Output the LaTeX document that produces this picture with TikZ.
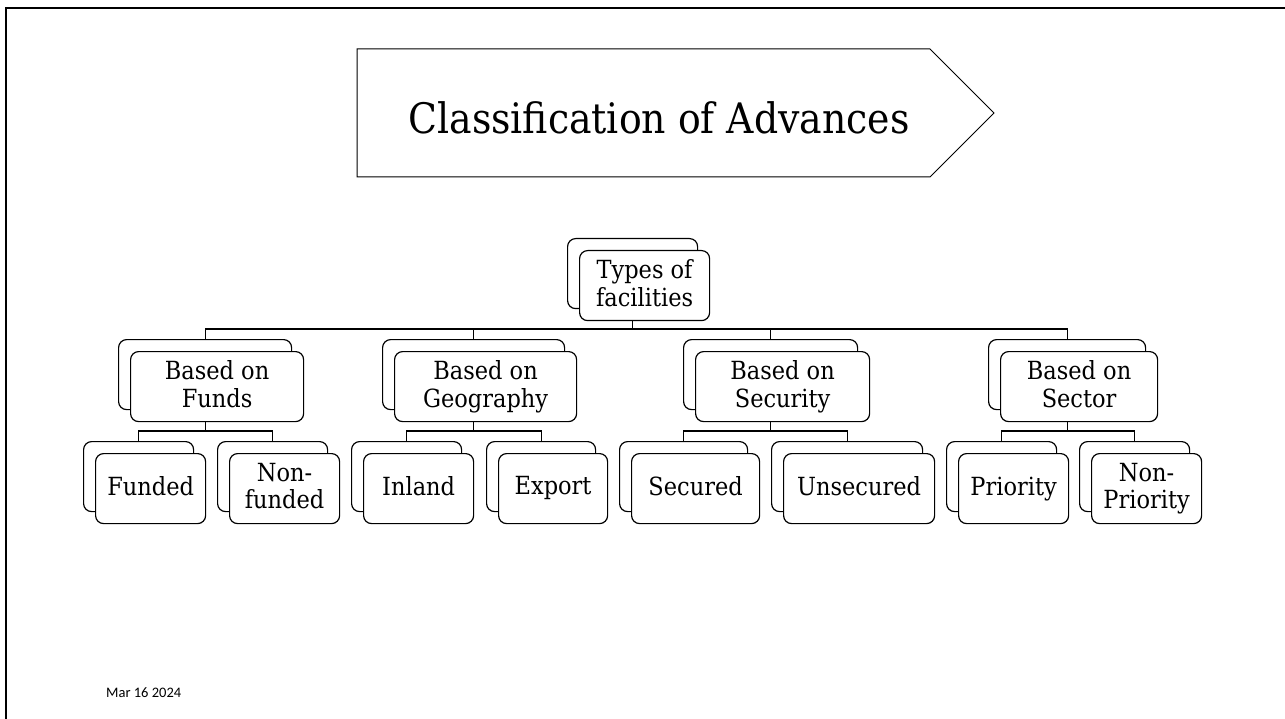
\documentclass[tikz,border=0pt]{standalone}
\usepackage{fontspec}
\setmainfont{DejaVu Serif Condensed}
\newfontfamily\datefont{Carlito}
\usetikzlibrary{calc}
\tikzset{
  boxline/.style={draw=black, line width=1.2pt, rounded corners=8pt, fill=white, inner sep=0pt},
  backbox/.style={boxline, minimum height=70pt},
  frontbox/.style={boxline, minimum height=70pt, align=center,
    font=\fontsize{25}{27.5}\selectfont},
  conn/.style={draw=black, line width=1.2pt},
  frame/.style={draw=black, line width=2pt},
}
\newcommand{\dbox}[5]{% name, backleft, backtop, width, text
  \node[backbox, minimum width=#4pt, anchor=north west] (#1b) at (#2,#3) {};
  \node[frontbox, minimum width=#4pt, anchor=north west] (#1f) at (#2+12,#3+12) {\vphantom{Ay}#5\vphantom{Ay}};
}
\begin{document}
\begin{tikzpicture}[x=1pt,y=-1pt]
\useasboundingbox (0,0) rectangle (1285,719);
% frame
\coordinate (fr1) at (1286,8);
\coordinate (fr2) at (6,8);
\coordinate (fr3) at (6,720);
\draw[frame] (fr1) -- (fr2) -- (fr3);
% title arrow
\draw[line width=1pt] (357,49) -- (930,49) -- (994,113) -- (930,177) -- (357,177) -- cycle;
\node[font=\fontsize{42}{46}\selectfont, inner sep=0pt] (title) at (659,118) {Classification of Advances};
% boxes
\dbox{top}{567}{238}{130}{Types of\\facilities}
\dbox{fun}{118}{339}{173}{Based on\\Funds}
\dbox{geo}{382}{339}{182}{Based on\\Geography}
\dbox{sec}{683}{339}{174}{Based on\\Security}
\dbox{sct}{988}{339}{157}{Based on\\Sector}
\dbox{fd}{83}{441}{110}{Funded}
\dbox{nf}{217}{441}{110}{Non-\\funded}
\dbox{in}{351}{441}{110}{Inland}
\dbox{ex}{486}{441}{109}{Export}
\dbox{sd}{619}{441}{128}{Secured}
\dbox{us}{771}{441}{151}{Unsecured}
\dbox{pr}{946}{441}{110}{Priority}
\dbox{np}{1079}{441}{110}{Non-\\Priority}
% connectors
\coordinate (bar0) at (0,329);
\coordinate (bar1) at (0,431);
\foreach \c in {fun,geo,sec,sct}
  \draw[conn] (topb |- topf.south) -- (topb |- bar0) -| (\c b.north);
\foreach \p/\c in {fun/fd,fun/nf,geo/in,geo/ex,sec/sd,sec/us,sct/pr,sct/np}
  \draw[conn] (\p b |- \p f.south) -- (\p b |- bar1) -| (\c b.north);
% date
\node[font=\datefont\fontsize{14.5}{16}\selectfont, anchor=west, inner sep=0pt] (date) at (106,693) {Mar 16 2024};
\end{tikzpicture}
\end{document}
